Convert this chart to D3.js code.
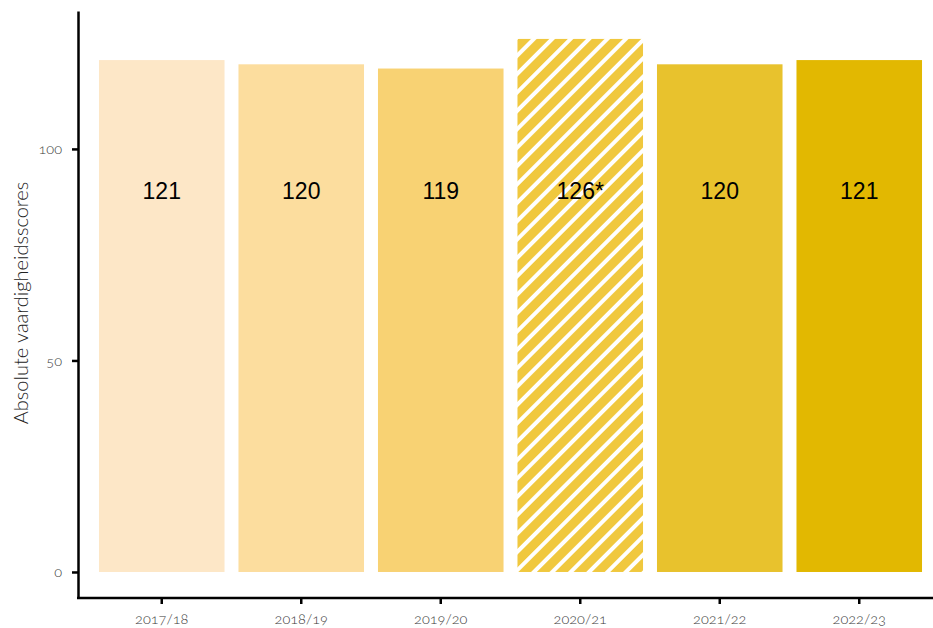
<!DOCTYPE html>
<html><head><meta charset="utf-8">
<script src="https://cdn.jsdelivr.net/npm/d3@7"></script>
<style>
body{margin:0;background:#fff;}
svg{display:block;}
.tick text{font-family:Lato,"Open Sans",sans-serif;font-weight:300;font-variant-numeric:oldstyle-nums;font-feature-settings:"onum";}
</style></head>
<body><svg id="c" width="933" height="628"></svg>
<script>
const categories = ["2017/18","2018/19","2019/20","2020/21","2021/22","2022/23"];
const values = [121,120,119,126,120,121];
const labels = ["121","120","119","126*","120","121"];
const colors = ["#FDE7C7","#FCDD9E","#F8D273","#F0C83E","#E8C22D","#E2B801"];
const hatched = [false,false,false,true,false,false];
const yTicks = [0,50,100];

const svg = d3.select("#c");
const x = d3.scaleBand().domain(categories).range([92,929]).paddingInner(0.1).paddingOuter(0.05);
const y = d3.scaleLinear().domain([-6.15,132.6]).range([598,11]);

const defs = svg.append("defs");
const pat = defs.append("pattern").attr("id","hatch").attr("patternUnits","userSpaceOnUse")
  .attr("width",13).attr("height",13).attr("patternTransform","rotate(45)");
pat.append("rect").attr("width",13).attr("height",13).attr("fill","#F0C83E");
pat.append("rect").attr("x",0).attr("width",4).attr("height",13).attr("fill","#fff");

svg.append("g").selectAll("rect").data(values).join("rect")
  .attr("x",(d,i)=>x(categories[i]))
  .attr("width",x.bandwidth())
  .attr("y",d=>y(d))
  .attr("height",d=>y(0)-y(d))
  .attr("fill",(d,i)=>hatched[i]?"url(#hatch)":colors[i]);

svg.append("g").selectAll("text").data(labels).join("text")
  .attr("x",(d,i)=>x(categories[i])+x.bandwidth()/2)
  .attr("y",y(89.6))
  .attr("text-anchor","middle").attr("dominant-baseline","middle")
  .attr("font-family","Liberation Sans, Arial, sans-serif").attr("font-size",23)
  .attr("fill","#000").text(d=>d);

const ya = svg.append("g").attr("transform","translate(78,0)").attr("color","#000")
  .call(d3.axisLeft(y).tickValues(yTicks).tickSize(6).tickSizeOuter(0).tickPadding(10));
ya.select(".domain").attr("stroke","#000").attr("stroke-width",2.5);
ya.selectAll(".tick line").remove();
ya.selectAll(".tick").append("rect").attr("x",-6).attr("y",-1.25).attr("width",6).attr("height",2.5).attr("fill","#000");
ya.selectAll(".tick text").attr("font-size",14.5).attr("fill","#3a3a3a");

const xa = svg.append("g").attr("transform","translate(0,598)").attr("color","#000")
  .call(d3.axisBottom(x).tickSize(6).tickPadding(10).tickSizeOuter(0));
xa.select(".domain").attr("stroke","#000").attr("stroke-width",2.5).attr("d","M77,0H933");
xa.selectAll(".tick line").remove();
xa.selectAll(".tick").append("rect").attr("x",-1.25).attr("y",0).attr("width",2.5).attr("height",6).attr("fill","#000");
xa.selectAll(".tick text").attr("font-size",14.5).attr("fill","#3a3a3a");

svg.append("text").attr("transform","translate(28,303) rotate(-90)")
  .attr("text-anchor","middle").attr("font-family","Lato, 'Open Sans', sans-serif")
  .attr("font-weight",300)
  .attr("font-size",20).attr("fill","#222").text("Absolute vaardigheidsscores");
</script></body></html>
